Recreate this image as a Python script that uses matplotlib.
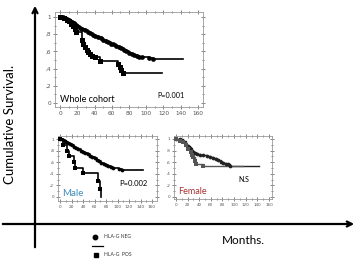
import matplotlib.pyplot as plt
from matplotlib.ticker import MultipleLocator, FixedLocator

# ---- data (months, cumulative survival) ----
whole_neg_t = [0, 3, 6, 8, 10, 12, 14, 16, 18, 20, 23, 26, 29, 32, 35, 38, 41, 44, 47, 50,
               53, 56, 59, 62, 65, 68, 71, 74, 77, 80, 83, 86, 89, 92, 95, 103, 108, 143]
whole_neg_s = [1.0, 0.995, 0.99, 0.98, 0.97, 0.955, 0.94, 0.925, 0.905, 0.89, 0.875, 0.86,
               0.845, 0.83, 0.815, 0.795, 0.78, 0.765, 0.75, 0.735, 0.72, 0.705, 0.69, 0.68,
               0.665, 0.65, 0.635, 0.62, 0.60, 0.585, 0.57, 0.56, 0.55, 0.54, 0.53, 0.525,
               0.51, 0.51]
whole_pos_t = [0, 5, 8, 11, 13, 15, 17, 19, 25, 27, 29, 31, 33, 35, 37, 40, 46, 67, 69, 71, 73, 118]
whole_pos_s = [1.0, 0.99, 0.97, 0.95, 0.92, 0.89, 0.86, 0.82, 0.73, 0.69, 0.65, 0.62, 0.59,
               0.57, 0.55, 0.53, 0.49, 0.45, 0.42, 0.38, 0.35, 0.35]

male_neg_t = [0, 5, 8, 11, 14, 17, 20, 24, 28, 32, 36, 40, 44, 48, 52, 56, 60, 64, 68, 72,
              76, 80, 84, 88, 93, 102, 108, 144]
male_neg_s = [1.0, 0.99, 0.97, 0.95, 0.93, 0.91, 0.89, 0.87, 0.85, 0.825, 0.80, 0.78, 0.76,
              0.735, 0.715, 0.69, 0.665, 0.64, 0.615, 0.59, 0.565, 0.55, 0.535, 0.52, 0.505,
              0.49, 0.465, 0.465]
male_pos_t = [0, 5, 13, 16, 24, 26, 40, 66, 69, 71]
male_pos_s = [1.0, 0.90, 0.80, 0.70, 0.60, 0.50, 0.41, 0.27, 0.14, 0.0]

female_neg_t = [0, 7, 12, 17, 21, 24, 27, 30, 33, 37, 41, 47, 53, 58, 64, 69, 73, 77, 81,
                86, 90, 93, 142]
female_neg_s = [1.0, 0.99, 0.97, 0.90, 0.87, 0.845, 0.79, 0.77, 0.76, 0.745, 0.73, 0.715,
                0.70, 0.685, 0.67, 0.65, 0.63, 0.61, 0.59, 0.575, 0.56, 0.54, 0.54]
female_pos_t = [0, 7, 12, 18, 21, 25, 27, 30, 33, 35, 47, 115]
female_pos_s = [1.0, 0.97, 0.95, 0.90, 0.82, 0.77, 0.73, 0.69, 0.62, 0.56, 0.53, 0.53]

x_ticks = [0, 20, 40, 60, 80, 100, 120, 140, 160]
y_ticks = [0, 0.2, 0.4, 0.6, 0.8, 1.0]
y_tick_labels = ['0', ',2', ',4', ',6', ',8', '1']

FONT = ['Lato', 'DejaVu Sans']
W, H = 358, 259
fig = plt.figure(figsize=(W / 100, H / 100), dpi=100)


def km(ax, t, s, marker, ms, color='black', lw=1.2):
    ax.step(t, s, where='post', color=color, lw=lw, zorder=3)
    ax.plot(t[:-1], s[:-1], ls='none', marker=marker, ms=ms, color=color,
            markeredgewidth=0, zorder=4)


def setup(ax, xlim, ylim, fs):
    ax.set_xlim(*xlim)
    ax.set_ylim(*ylim)
    ax.xaxis.set_major_locator(FixedLocator(x_ticks))
    ax.xaxis.set_minor_locator(MultipleLocator(10))
    ax.yaxis.set_major_locator(FixedLocator(y_ticks))
    ax.yaxis.set_minor_locator(MultipleLocator(0.1))
    ax.set_yticklabels(y_tick_labels)
    ax.tick_params(which='both', direction='inout', top=True, right=True,
                   labelsize=fs, colors='#555555', pad=1.5, width=0.5)
    ax.tick_params(which='major', length=2.5)
    ax.tick_params(which='minor', length=1.5)
    for sp in ax.spines.values():
        sp.set_color('#999999')
        sp.set_linewidth(0.6)


# whole cohort panel
ax1 = fig.add_axes([55 / W, 1 - 107 / H, 148 / W, 95 / H])
km(ax1, whole_neg_t, whole_neg_s, 'o', 3.4)
km(ax1, whole_pos_t, whole_pos_s, 's', 3.6)
setup(ax1, (-5.8, 165.8), (-0.047, 1.058), 4.2)

# male panel
ax2 = fig.add_axes([58 / W, 1 - 201 / H, 99 / W, 65 / H])
km(ax2, male_neg_t, male_neg_s, 'o', 2.7)
km(ax2, male_pos_t, male_pos_s, 's', 2.9)
setup(ax2, (-3.5, 168.7), (-0.069, 1.052), 3.1)

# female panel
ax3 = fig.add_axes([174 / W, 1 - 199 / H, 98 / W, 63 / H])
km(ax3, female_neg_t, female_neg_s, 'o', 2.7, color='#222222', lw=1.0)
km(ax3, female_pos_t, female_pos_s, 's', 2.9, color='#555555', lw=1.0)
setup(ax3, (-3.4, 165.2), (-0.035, 1.05), 3.0)

# overlay in pixel coordinates for the big axes, labels and legend
ov = fig.add_axes([0, 0, 1, 1], zorder=10)
ov.set_xlim(0, W)
ov.set_ylim(H, 0)
ov.axis('off')
ov.patch.set_visible(False)

arrow = dict(arrowstyle='->', lw=1.6, color='black', mutation_scale=9)
ov.annotate('', xy=(35, 3), xytext=(35, 250), arrowprops=arrow)
ov.annotate('', xy=(357, 224), xytext=(0, 224), arrowprops=arrow)

ov.text(10, 124, 'Cumulative Survival.', rotation=90, ha='center', va='center',
        fontsize=9.5, family=FONT)
ov.text(243, 240, 'Months.', ha='center', va='center', fontsize=8.5, family=FONT)

ov.text(60, 99, 'Whole cohort', ha='left', va='center', fontsize=6.5, family=FONT)
ov.text(171, 96, 'P=0.001', ha='center', va='center', fontsize=5.2, family=FONT)
ov.text(62, 193, 'Male', ha='left', va='center', fontsize=7, color='#3d8cbc', family=FONT)
ov.text(133, 184, 'P=0.002', ha='center', va='center', fontsize=5.5, family=FONT)
ov.text(178, 192, 'Female', ha='left', va='center', fontsize=6.5, color='#a83232', family=FONT)
ov.text(244, 179, 'N.S', ha='center', va='center', fontsize=5, family=FONT)

# legend
ov.plot([95], [237], marker='o', ms=3.2, color='black', ls='none')
ov.text(104, 237, 'HLA-G NEG', ha='left', va='center', fontsize=3.6, color='#333333',
        family=FONT)
ov.plot([92, 103], [246, 246], color='black', lw=0.9)
ov.plot([96], [255], marker='s', ms=3.2, color='black', ls='none')
ov.text(104, 255, 'HLA-G  POS', ha='left', va='center', fontsize=3.6, color='#333333',
        family=FONT)

fig.savefig('out.png', dpi=100)
